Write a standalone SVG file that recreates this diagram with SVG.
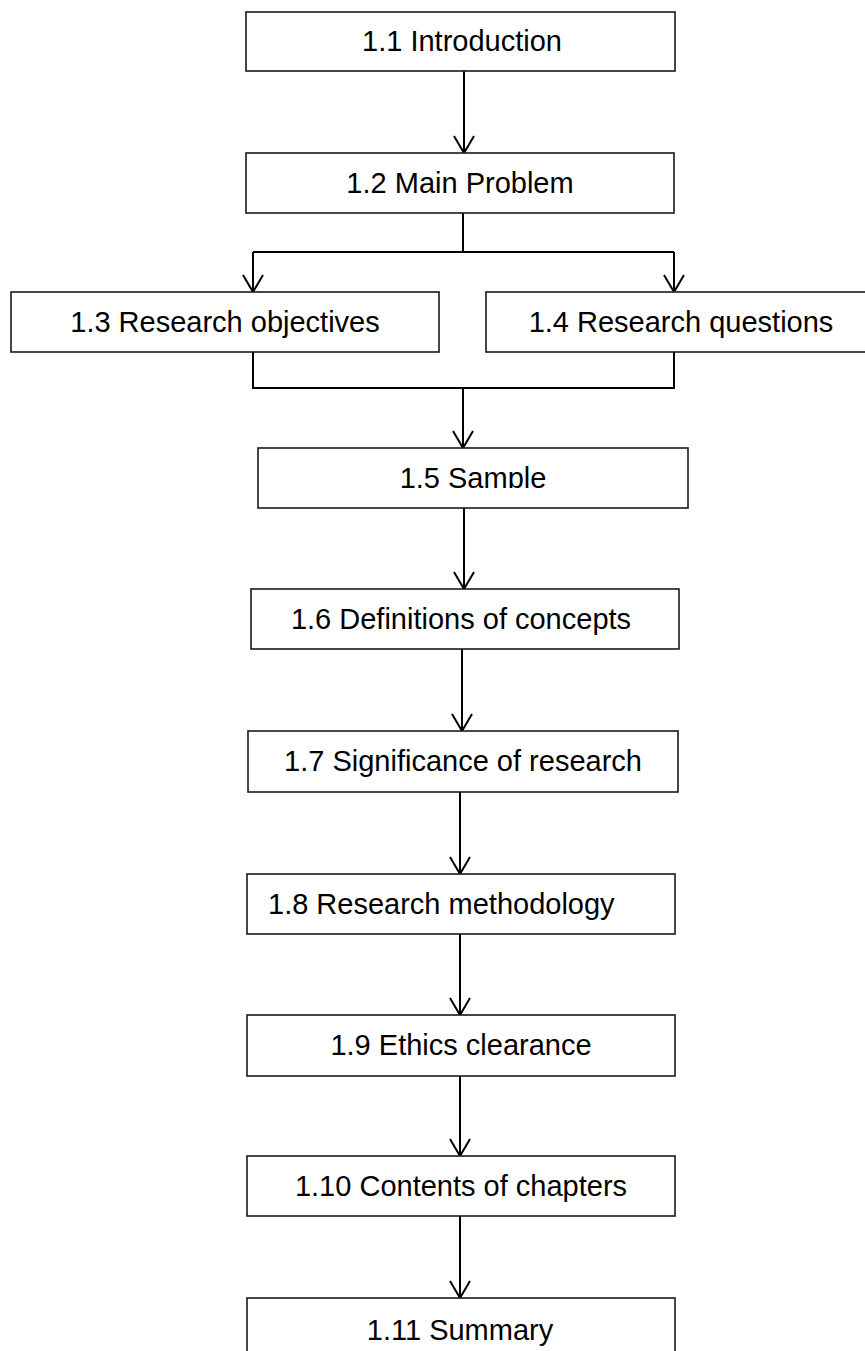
<svg xmlns="http://www.w3.org/2000/svg" width="865" height="1351" viewBox="0 0 865 1351">
  <style>
    .box { fill: #ffffff; stroke: #1a1a1a; stroke-width: 1.6; }
    .label { font-family: "Liberation Sans", Arial, sans-serif; font-size: 29px; fill: #000000; }
    .mid { text-anchor: middle; }
    .edge { fill: none; stroke: #000000; stroke-width: 2; }
  </style>
  <defs>
    <marker id="vhead" viewBox="-1 -11 19 22" refX="17" refY="0" markerWidth="19" markerHeight="22" markerUnits="userSpaceOnUse" orient="auto">
      <path d="M0,-10 L17,0 L0,10" fill="none" stroke="#000000" stroke-width="2"/>
    </marker>
    <clipPath id="sampleClip">
      <rect x="258" y="448" width="430" height="40"/>
    </clipPath>
  </defs>
  <rect width="865" height="1351" fill="#ffffff"/>

  <g id="connectors">
    <line class="edge" x1="464" y1="71" x2="464" y2="153" marker-end="url(#vhead)"/>
    <polyline class="edge" points="463,213 463,252"/>
    <polyline class="edge" points="253,252 674,252"/>
    <line class="edge" x1="253" y1="252" x2="253" y2="292" marker-end="url(#vhead)"/>
    <line class="edge" x1="674" y1="252" x2="674" y2="292" marker-end="url(#vhead)"/>
    <polyline class="edge" points="253,352 253,388 674,388 674,352"/>
    <line class="edge" x1="463" y1="388" x2="463" y2="448" marker-end="url(#vhead)"/>
    <line class="edge" x1="464" y1="508" x2="464" y2="589" marker-end="url(#vhead)"/>
    <line class="edge" x1="462" y1="649" x2="462" y2="731" marker-end="url(#vhead)"/>
    <line class="edge" x1="460" y1="792" x2="460" y2="874" marker-end="url(#vhead)"/>
    <line class="edge" x1="460" y1="934" x2="460" y2="1015" marker-end="url(#vhead)"/>
    <line class="edge" x1="460" y1="1076" x2="460" y2="1156" marker-end="url(#vhead)"/>
    <line class="edge" x1="460" y1="1216" x2="460" y2="1298" marker-end="url(#vhead)"/>
  </g>

  <g id="n1-1">
    <rect class="box" x="246" y="12" width="429" height="59"/>
    <text class="label mid" x="462" y="51">1.1 Introduction</text>
  </g>
  <g id="n1-2">
    <rect class="box" x="246" y="153" width="428" height="60"/>
    <text class="label mid" x="460" y="193">1.2 Main Problem</text>
  </g>
  <g id="n1-3">
    <rect class="box" x="11" y="292" width="428" height="60"/>
    <text class="label mid" x="225" y="332">1.3 Research objectives</text>
  </g>
  <g id="n1-4">
    <rect class="box" x="486" y="292" width="400" height="60"/>
    <text class="label mid" x="681" y="332">1.4 Research questions</text>
  </g>
  <g id="n1-5">
    <rect class="box" x="258" y="448" width="430" height="60"/>
    <text class="label mid" x="473" y="488" clip-path="url(#sampleClip)">1.5 Sample</text>
  </g>
  <g id="n1-6">
    <rect class="box" x="251" y="589" width="428" height="60"/>
    <text class="label mid" x="461" y="629">1.6 Definitions of concepts</text>
  </g>
  <g id="n1-7">
    <rect class="box" x="248" y="731" width="430" height="61"/>
    <text class="label mid" x="463" y="771">1.7 Significance of research</text>
  </g>
  <g id="n1-8">
    <rect class="box" x="247" y="874" width="428" height="60"/>
    <text class="label" x="268" y="914">1.8 Research methodology</text>
  </g>
  <g id="n1-9">
    <rect class="box" x="247" y="1015" width="428" height="61"/>
    <text class="label mid" x="461" y="1055">1.9 Ethics clearance</text>
  </g>
  <g id="n1-10">
    <rect class="box" x="247" y="1156" width="428" height="60"/>
    <text class="label mid" x="461" y="1196">1.10 Contents of chapters</text>
  </g>
  <g id="n1-11">
    <rect class="box" x="247" y="1298" width="428" height="70"/>
    <text class="label mid" x="460" y="1340">1.11 Summary</text>
  </g>
</svg>
